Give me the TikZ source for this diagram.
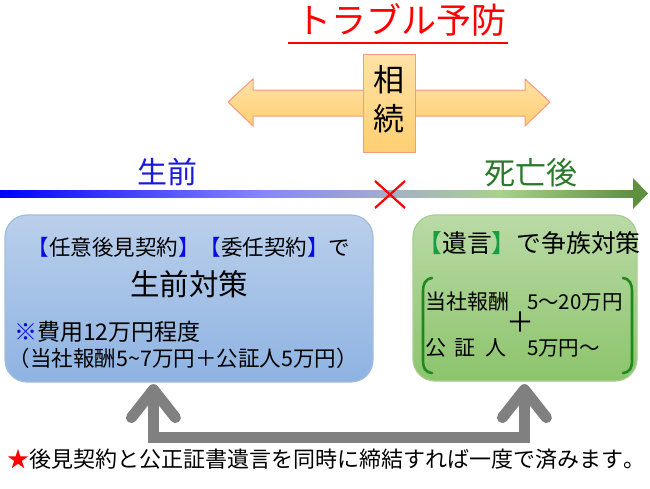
\documentclass[tikz,border=0pt]{standalone}
\usepackage{fontspec}
\setmainfont{Noto Sans CJK JP}
\usetikzlibrary{calc}
\definecolor{tred}{HTML}{FF0000}
\definecolor{arrtop}{HTML}{FFE2A6}
\definecolor{arrbot}{HTML}{FFCF72}
\definecolor{arrbord}{HTML}{F49A80}
\definecolor{bluetop}{HTML}{BACFEB}
\definecolor{bluebot}{HTML}{8EB3E2}
\definecolor{bluebord}{HTML}{A3BCDD}
\definecolor{greentop}{HTML}{BADAA6}
\definecolor{greenbot}{HTML}{8CC46C}
\definecolor{greenbord}{HTML}{A6CE92}
\definecolor{brblue}{HTML}{0A0AE6}
\definecolor{brgreen}{HTML}{12A040}
\definecolor{pgreen}{HTML}{1E8A1E}
\definecolor{sbluetxt}{HTML}{1A1ADC}
\definecolor{sgreentxt}{HTML}{2A7A2A}
\definecolor{tl1}{HTML}{0000FF}
\definecolor{tl2}{HTML}{8585FF}
\definecolor{tl3}{HTML}{A3AFC8}
\definecolor{tl4}{HTML}{A9D18E}
\definecolor{tl5}{HTML}{5E9040}
\definecolor{conngray}{HTML}{808080}
\newcommand\myfs[1]{\fontsize{#1}{#1}\selectfont}
\begin{document}
\begin{tikzpicture}[x=1pt,y=-1pt,
  txt/.style={inner sep=0pt,outer sep=0pt},
  roundbox/.style={rounded corners=22pt,line width=1.2pt,inner sep=0pt},
  bluebox/.style={roundbox,draw=bluebord,top color=bluetop,bottom color=bluebot,minimum width=368pt,minimum height=167pt},
  greenbox/.style={roundbox,draw=greenbord,top color=greentop,bottom color=greenbot,minimum width=224pt,minimum height=166pt},
  conn/.style={draw=conngray,line width=11pt,line join=miter},
  chev/.style={draw=conngray,line width=11pt,line cap=round,line join=round},
  paren/.style={draw=pgreen,line width=2.6pt,line cap=round}]
\useasboundingbox (0,0) rectangle (650,488);
\fill[white] (0,0) rectangle (650,488);

% title
\node[txt,text=tred] (title) at (401,20) {\myfs{35}トラブル予防};
\draw[tred,line width=2pt] (288,42.5) -- (508,42.5);

% double arrow with 相続 box
\draw[draw=arrbord,top color=arrtop,bottom color=arrbot,line width=1pt]
  (228,102) -- (253,79) -- (253,90) -- (525,90) -- (525,79) -- (550,102)
  -- (525,126) -- (525,116) -- (253,116) -- (253,126) -- cycle;
\node[draw=arrbord,top color=arrtop,bottom color=arrbot,line width=1pt,
  minimum width=52pt,minimum height=98pt,inner sep=0pt] (sz) at (389,103) {};
\node[txt] (sz1) at (389,80) {\myfs{31}相};
\node[txt] (sz2) at (389,119) {\myfs{31}続};

% timeline
\shade[left color=tl1,right color=tl2] (0,190) rectangle (260.5,197);
\shade[left color=tl2,right color=tl3] (260,190) rectangle (390.5,197);
\shade[left color=tl3,right color=tl4] (390,190) rectangle (500.5,197);
\shade[left color=tl4,right color=tl5] (500,190) rectangle (634,197);
\fill[tl5] (633,178) -- (648,193.5) -- (633,209) -- cycle;
\draw[tred,line width=2.2pt] (375,181) -- (405,208) (375,208) -- (405,181);
\node[txt,text=sbluetxt] (sei) at (167,172) {\myfs{30}生前};
\node[txt,text=sgreentxt] (shi) at (531,173) {\myfs{31}死亡後};

% left box
\node[bluebox] (L) at (189,298.5) {};
\node[txt] (l1) at (189,247) {\myfs{21.5}\textcolor{brblue}{【}任意後見契約\textcolor{brblue}{】【}委任契約\textcolor{brblue}{】}で};
\node[txt] (l2) at (189,284) {\myfs{29.5}生前対策};
\node[txt,anchor=west] (l3) at (14,332) {\myfs{23}\textcolor{brblue}{※}費用12万円程度};
\node[txt,anchor=west] (l4) at (9,358) {\myfs{21.5}（当社報酬5\char"007E 7万円＋公証人5万円）};

% right box
\node[greenbox] (R) at (525,298) {};
\node[txt] (r1) at (529,243) {\myfs{24.8}\textcolor{brgreen}{【}遺言\textcolor{brgreen}{】}で争族対策};
\draw[paren] (432,278) .. controls (425,279) and (423,284) .. (423,292) -- (423,360) .. controls (423,368) and (425,372) .. (432,373);
\draw[paren] (623,278) .. controls (630,279) and (632,284) .. (632,292) -- (632,360) .. controls (632,368) and (630,372) .. (623,373);
\node[txt,anchor=west] (r2a) at (425,302) {\myfs{21}当社報酬};
\node[txt,anchor=west] (r2b) at (527,302) {\myfs{20.5}5～20万円};
\node[txt] (rplus) at (520,322) {\myfs{28}＋};
\node[txt,anchor=west] (r3a) at (425,348) {\myfs{21}公\hspace{9pt}証\hspace{9pt}人};
\node[txt,anchor=west] (r3b) at (527,348) {\myfs{20.5}5万円～};

% connector
\coordinate (la) at ($(L.south west)+(149,7)$);
\coordinate (ra) at ($(R.south west)+(112,8)$);
\draw[conn] (la) -- ++(0,48) -| (ra);
\draw[chev] ($(la)+(-22,28)$) -- (la) -- ($(la)+(22,28)$);
\draw[chev] ($(ra)+(-22,28)$) -- (ra) -- ($(ra)+(22,28)$);

% bottom note
\node[txt,anchor=west] (note) at (7,459) {\myfs{22}\textcolor{tred}{★}後見契約と公正証書遺言を同時に締結すれば一度で済みます\makebox[0.5em][l]{。}};
\end{tikzpicture}
\end{document}
